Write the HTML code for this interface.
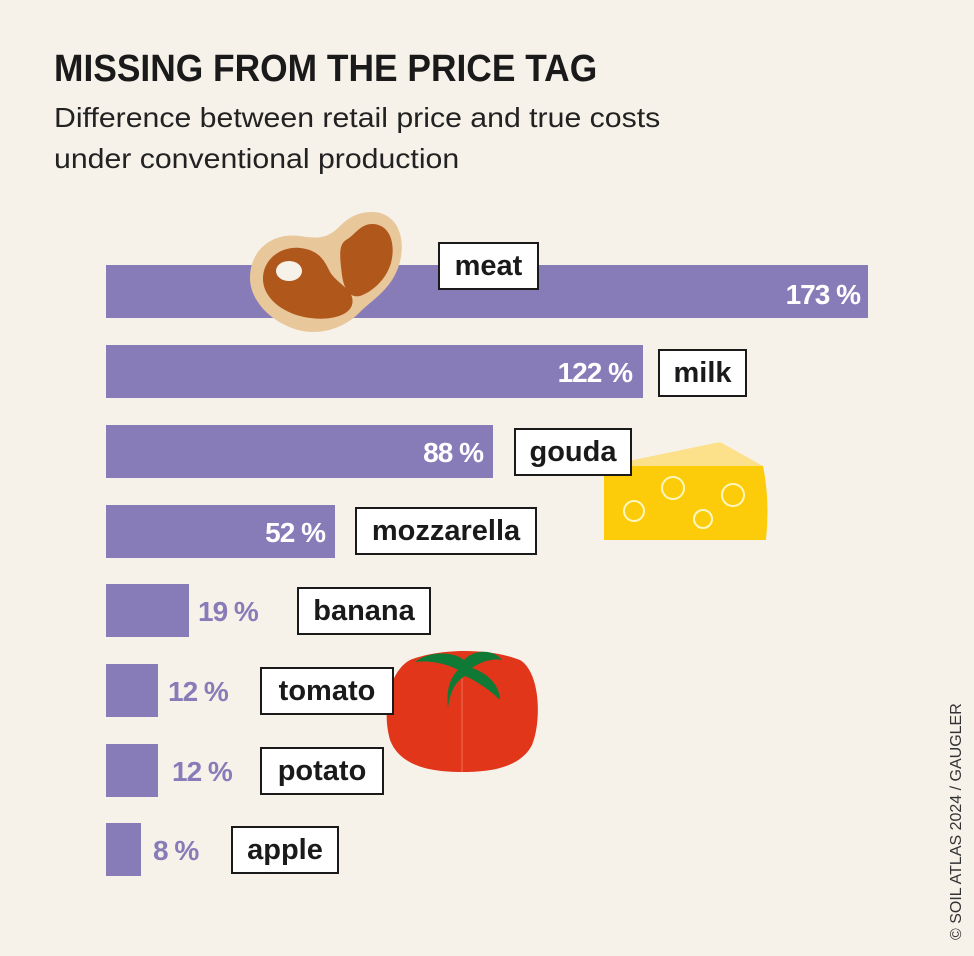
<!DOCTYPE html>
<html><head><meta charset="utf-8"><style>
body{margin:0;width:974px;height:956px;background:#f6f2ea;position:relative;overflow:hidden;font-family:"Liberation Sans",sans-serif;}
.a{position:absolute}
.bar{position:absolute;left:106px;height:53px;background:#887cb8}
.lb{position:absolute;background:#fff;border:2px solid #1a1a1a;box-sizing:border-box;font-weight:bold;font-size:29px;color:#1a1a1a;text-align:center;line-height:44px;height:48px}
.pc{position:absolute;font-weight:bold;font-size:28px;line-height:53px;letter-spacing:-1px}
.w{color:#fff;text-align:right}
.p{color:#887cb8}
</style></head><body>
<div class="a" style="left:54px;top:48px;font-weight:bold;font-size:38px;color:#1a1a1a;transform:scaleX(0.93);transform-origin:left;white-space:nowrap">MISSING FROM THE PRICE TAG</div>
<div class="a" style="left:54px;top:97px;font-size:28px;color:#222;line-height:41px;transform:scaleX(1.08);transform-origin:left;white-space:nowrap">Difference between retail price and true costs<br>under conventional production</div>

<div class="bar" style="top:265px;width:762px"></div>
<div class="bar" style="top:345px;width:537px"></div>
<div class="bar" style="top:425px;width:387px"></div>
<div class="bar" style="top:505px;width:229px"></div>
<div class="bar" style="top:584px;width:83px"></div>
<div class="bar" style="top:664px;width:52px"></div>
<div class="bar" style="top:744px;width:52px"></div>
<div class="bar" style="top:823px;width:35px"></div>

<div class="pc w" style="top:268px;left:700px;width:160px">173 %</div>
<div class="pc w" style="top:346px;left:470px;width:162px">122 %</div>
<div class="pc w" style="top:426px;left:320px;width:163px">88 %</div>
<div class="pc w" style="top:506px;left:160px;width:165px">52 %</div>
<div class="pc p" style="top:585px;left:198px">19 %</div>
<div class="pc p" style="top:665px;left:168px">12 %</div>
<div class="pc p" style="top:745px;left:172px">12 %</div>
<div class="pc p" style="top:824px;left:153px">8 %</div>

<svg class="a" style="left:240px;top:205px" width="170" height="135" viewBox="240 205 170 135">
<path d="M372 212 C398 212 408 240 398 268 C390 290 372 300 360 312 C345 328 320 336 298 330 C270 322 250 300 250 278 C250 250 272 232 300 236 C322 240 330 236 340 226 C350 216 360 212 372 212Z" fill="#e8c79b"/>
<path d="M300 248 C320 250 325 262 330 272 C338 285 356 290 352 305 C348 318 322 322 300 316 C278 310 262 295 263 277 C264 258 282 246 300 248Z" fill="#b0571c"/>
<path d="M372 224 C388 224 395 240 392 258 C389 278 372 292 360 296 C350 298 344 290 342 275 C340 258 338 245 346 240 C354 236 360 224 372 224Z" fill="#b0571c"/>
<ellipse cx="289" cy="271" rx="13" ry="10" fill="#f6f2ea"/>
</svg>

<svg class="a" style="left:600px;top:438px" width="170" height="106" viewBox="600 438 170 106">
<polygon points="604,466 720,442 763,466" fill="#fce08a"/>
<path d="M604 466 L763 466 Q770 500 766 540 L604 540Z" fill="#fccc0a"/>
<g fill="none" stroke="#fff7c0" stroke-width="2"><circle cx="634" cy="511" r="10"/><circle cx="673" cy="488" r="11"/><circle cx="733" cy="495" r="11"/><circle cx="703" cy="519" r="9"/></g>
</svg>

<svg class="a" style="left:385px;top:640px" width="160" height="135" viewBox="385 640 160 135">
<path d="M410 660 C440 648 490 648 520 660 C540 672 542 720 532 745 C520 768 490 772 462 772 C430 772 400 766 390 740 C382 712 388 672 410 660Z" fill="#e2361a"/>
<line x1="462" y1="672" x2="462" y2="772" stroke="#f07050" stroke-width="1"/>
<path d="M415 662 C430 650 455 652 464 660 C475 648 495 650 502 660 C492 658 480 662 472 668 C485 672 500 684 500 700 C490 690 475 680 465 676 C455 682 450 692 448 708 C446 690 450 678 458 670 C448 664 430 660 415 662Z" fill="#0e7a35"/>
</svg>

<div class="lb" style="left:438px;top:242px;width:101px">meat</div>
<div class="lb" style="left:658px;top:349px;width:89px">milk</div>
<div class="lb" style="left:514px;top:428px;width:118px">gouda</div>
<div class="lb" style="left:355px;top:507px;width:182px">mozzarella</div>
<div class="lb" style="left:297px;top:587px;width:134px">banana</div>
<div class="lb" style="left:260px;top:667px;width:134px">tomato</div>
<div class="lb" style="left:260px;top:747px;width:124px">potato</div>
<div class="lb" style="left:231px;top:826px;width:108px">apple</div>

<div class="a" style="left:948px;top:940px;transform:rotate(-90deg);transform-origin:left top;font-size:16px;color:#333;white-space:nowrap;line-height:18px">© SOIL ATLAS 2024 / GAUGLER</div>
</body></html>
